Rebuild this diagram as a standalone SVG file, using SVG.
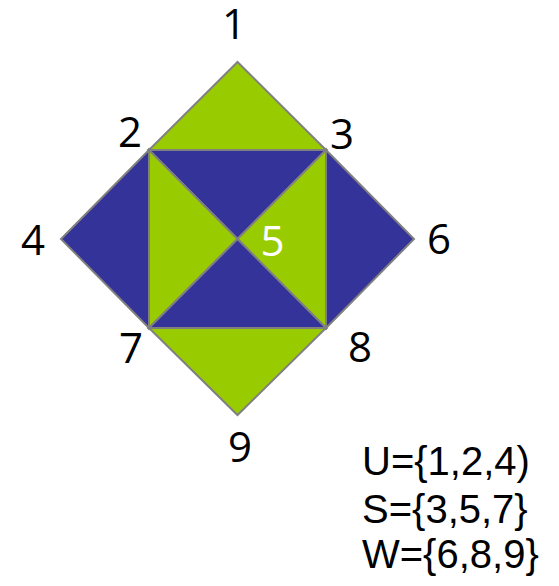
<svg xmlns="http://www.w3.org/2000/svg" width="559" height="586" viewBox="0 0 559 586">
<style>
.g{fill:#99cc00;stroke:#808080;stroke-width:2;stroke-linejoin:miter}
.b{fill:#333399;stroke:#808080;stroke-width:2;stroke-linejoin:miter}
.lbl{font-family:"Open Sans","DejaVu Sans",sans-serif;font-size:42px;fill:#000;text-anchor:middle}
.w{fill:#fff}
.set{font-family:"Liberation Sans",Arial,sans-serif;font-size:40px;fill:#000}
</style>
<rect width="559" height="586" fill="#fff"/>
<g id="shapes">
<polygon id="t123" class="g" points="237.5,62 149,150 326,150"/>
<polygon id="t247" class="b" points="149,150 61,239 149,328"/>
<polygon id="t368" class="b" points="326,150 414,239 326,328"/>
<polygon id="t789" class="g" points="149,328 326,328 237.5,415"/>
<polygon id="t235" class="b" points="149,150 326,150 237.5,239"/>
<polygon id="t257" class="g" points="149,150 237.5,239 149,328"/>
<polygon id="t358" class="g" points="326,150 237.5,239 326,328"/>
<polygon id="t785" class="b" points="149,328 326,328 237.5,239"/>
</g>
<g id="labels">
<text class="lbl" x="234" y="39">1</text>
<text class="lbl" x="130" y="147">2</text>
<text class="lbl" x="342" y="149">3</text>
<text class="lbl" x="33" y="255">4</text>
<text class="lbl w" x="272.5" y="256">5</text>
<text class="lbl" x="439" y="254">6</text>
<text class="lbl" x="131" y="363">7</text>
<text class="lbl" x="360" y="362">8</text>
<text class="lbl" x="240" y="462">9</text>
</g>
<g id="sets">
<text class="set" x="362" y="475">U={1,2,4)</text>
<text class="set" x="362" y="523">S={3,5,7}</text>
<text class="set" x="362" y="568">W={6,8,9}</text>
</g>
</svg>
